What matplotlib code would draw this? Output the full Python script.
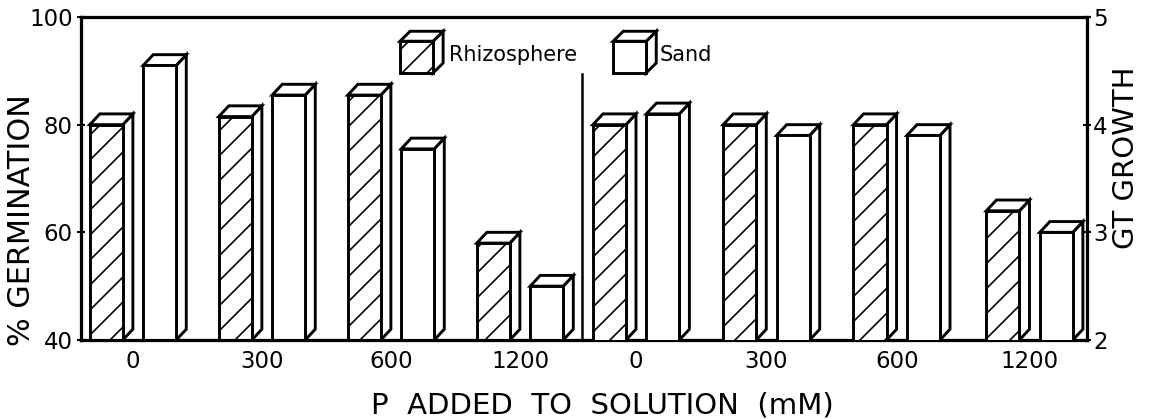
import numpy as np
import matplotlib
matplotlib.use("Agg")
import matplotlib.pyplot as plt
from matplotlib.patches import Polygon

# data
doses = ["0", "300", "600", "1200"]
germ_rhizo = [80, 81.5, 85.5, 58]      # % germination, rhizosphere
germ_sand = [91, 85.5, 75.5, 50]       # % germination, sand
gt_rhizo = [4.0, 4.0, 4.0, 3.2]        # germ tube growth, rhizosphere
gt_sand = [4.1, 3.9, 3.9, 3.0]         # germ tube growth, sand

left_pos = np.array([0.0, 1.0, 2.0, 3.0])
right_pos = np.array([3.9, 4.91, 5.92, 6.95])

plt.rcParams["font.family"] = "DejaVu Sans"
plt.rcParams["hatch.linewidth"] = 0.8

BW = 0.256      # bar front width
OFF = 0.207     # offset of each bar from group centre
DX = 0.078      # depth in x (data units)
LW = 1.4


def add_depth(ax, rects, dy, base):
    """Draw top and side faces for a set of bar rectangles."""
    for r in rects:
        x0, w = r.get_x(), r.get_width()
        top = r.get_y() + r.get_height()
        side = Polygon([(x0 + w, base), (x0 + w + DX, base + dy),
                        (x0 + w + DX, top + dy), (x0 + w, top)],
                       closed=True, fc="white", ec="black", lw=LW, zorder=2)
        lid = Polygon([(x0, top), (x0 + DX, top + dy),
                       (x0 + w + DX, top + dy), (x0 + w, top)],
                      closed=True, fc="white", ec="black", lw=LW, zorder=2)
        ax.add_patch(side)
        ax.add_patch(lid)
        r.set_zorder(3)


fig = plt.figure(figsize=(1149 / 150, 419 / 150), dpi=150)
ax = fig.add_axes([81 / 1149, 1 - 340 / 419, 1006 / 1149, 323 / 419])
ax2 = ax.twinx()

ax.set_xlim(-0.403, 7.395)
ax.set_ylim(40, 100)
ax2.set_ylim(2, 5)

# left panel: % germination
r1 = ax.bar(left_pos - OFF, germ_rhizo, BW, fc="white", ec="black", lw=LW, hatch="//")
s1 = ax.bar(left_pos + OFF, germ_sand, BW, fc="white", ec="black", lw=LW)
add_depth(ax, r1, 2.0, 40)
add_depth(ax, s1, 2.0, 40)

# right panel: GT growth
r2 = ax2.bar(right_pos - OFF, gt_rhizo, BW, fc="white", ec="black", lw=LW, hatch="//")
s2 = ax2.bar(right_pos + OFF, gt_sand, BW, fc="white", ec="black", lw=LW)
add_depth(ax2, r2, 0.1, 2)
add_depth(ax2, s2, 0.1, 2)

# divider between panels
ax.axvline(3.48, ymin=0, ymax=(89.5 - 40) / 60, color="black", lw=1.2)

# legend icons (little cubes)
leg = ax.bar([2.198, 3.85], [5.9, 5.9], BW, bottom=89.6, fc="white", ec="black", lw=LW)
leg[0].set_hatch("//")
add_depth(ax, leg, 1.85, 89.6)
ax.text(2.45, 93.0, "Rhizosphere", fontsize=10, va="center", ha="left")
ax.text(4.085, 93.0, "Sand", fontsize=10, va="center", ha="left")

# axes styling
ax.set_xticks(np.concatenate([left_pos, right_pos]))
ax.set_xticklabels(doses + doses, fontsize=11)
ax.tick_params(axis="x", length=0, pad=5)
ax.set_yticks([40, 60, 80, 100])
ax.tick_params(axis="y", direction="inout", length=4, width=1, labelsize=11, pad=2)
ax2.set_yticks([2, 3, 4, 5])
ax2.tick_params(axis="y", direction="inout", length=4, width=1, labelsize=11, pad=1)

for a in (ax, ax2):
    for s in a.spines.values():
        s.set_linewidth(1.5)

ax.set_ylabel("% GERMINATION", fontsize=14.5)
ax.yaxis.set_label_coords(-0.045, 0.37)
ax2.set_ylabel("GT GROWTH", fontsize=14)
ax2.yaxis.set_label_coords(1.025, 0.565)
ax.set_xlabel("P  ADDED  TO  SOLUTION  (mM)", fontsize=14)
ax.xaxis.set_label_coords(0.518, -0.16)

fig.savefig("out.png", dpi=150)
